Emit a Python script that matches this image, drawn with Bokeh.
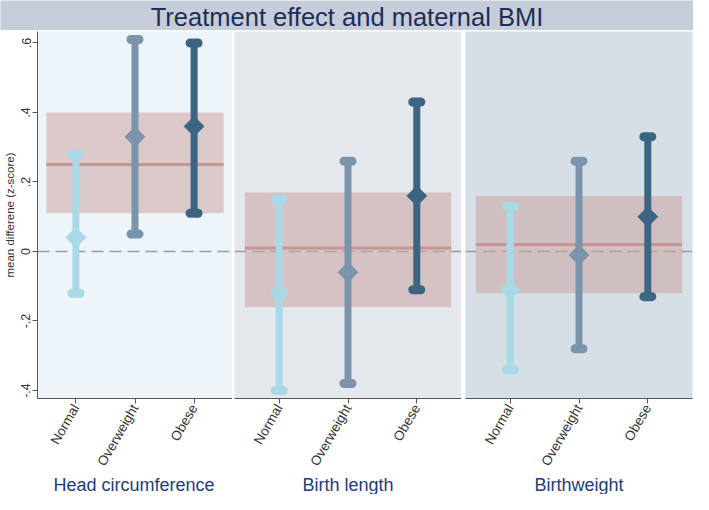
import math
from bokeh.plotting import figure
from bokeh.layouts import column, row
from bokeh.models import Range1d, FixedTicker, Span
from bokeh.core.properties import value
from bokeh.embed import file_html
from bokeh.resources import INLINE

title_text = "Treatment effect and maternal BMI"
y_label = "mean differene (z-score)"
groups = ["Normal", "Overweight", "Obese"]
outcomes = ["Head circumference", "Birth length", "Birthweight"]

# group-specific estimates (mean difference, z-score) with CI
head_est = [0.04, 0.33, 0.36]
head_lo = [-0.12, 0.05, 0.11]
head_hi = [0.28, 0.61, 0.60]

length_est = [-0.12, -0.06, 0.16]
length_lo = [-0.40, -0.38, -0.11]
length_hi = [0.15, 0.26, 0.43]

weight_est = [-0.11, -0.01, 0.10]
weight_lo = [-0.34, -0.28, -0.13]
weight_hi = [0.13, 0.26, 0.33]

# pooled estimate per outcome with CI (shaded band)
pooled_est = [0.25, 0.01, 0.02]
pooled_lo = [0.11, -0.16, -0.12]
pooled_hi = [0.40, 0.17, 0.16]

y_ticks = [-0.4, -0.2, 0, 0.2, 0.4, 0.6]
y_tick_labels = ["-.4", "-.2", "0", ".2", ".4", ".6"]

group_colors = ["#a9d8e6", "#7b93ab", "#3c6582"]
panel_bg = ["#eef5fa", "#e4e7ec", "#d7dfe6"]
FONT = "Liberation Sans"

series = [(head_est, head_lo, head_hi), (length_est, length_lo, length_hi),
          (weight_est, weight_lo, weight_hi)]

TITLE_H = 30
ROW_H = 445
LABEL_H = 19
XR = (0.35, 3.65)
widths = [232, 229, 232]
borders = [(35, 0), (2, 0), (4, 1)]
xs = [k + 1 for k in range(len(groups))]


def make_panel(i):
    est, lo, hi = series[i]
    bl, br = borders[i]
    p = figure(width=widths[i], height=ROW_H, x_range=Range1d(*XR),
               y_range=Range1d(-0.423, 0.633), output_backend="svg",
               toolbar_location=None, min_border_left=bl, min_border_right=br,
               min_border_top=1, min_border_bottom=60)
    p.background_fill_color = panel_bg[i]
    p.border_fill_color = "white"
    p.outline_line_color = None
    p.grid.visible = False

    p.add_layout(Span(location=0, dimension="width", line_color="#9b9b9b",
                      line_width=1.5, line_dash="12 6", level="underlay"))
    p.quad(left=[0.5], right=[3.5], bottom=[pooled_lo[i]], top=[pooled_hi[i]],
           fill_color="#c9a19d", fill_alpha=0.52, line_color=None)
    p.segment(x0=[0.5], x1=[3.5], y0=[pooled_est[i]], y1=[pooled_est[i]],
              line_color="#c39593", line_width=3)

    p.segment(x0=xs, x1=xs, y0=lo, y1=hi, line_color=group_colors, line_width=7)
    p.scatter(x=xs + xs, y=lo + hi, marker="dash", size=8, line_width=9,
              line_cap="round", line_color=group_colors + group_colors)
    p.scatter(x=xs, y=est, marker="square", angle=math.pi / 4, size=14,
              fill_color=group_colors, line_color=group_colors)

    ax = p.xaxis[0]
    ax.ticker = FixedTicker(ticks=xs)
    ax.major_label_overrides = {k + 1: g for k, g in enumerate(groups)}
    ax.major_label_orientation = math.pi / 3
    ax.major_label_text_font = FONT
    ax.major_label_text_font_size = "13.5px"
    ax.major_label_text_color = "#333333"
    ax.major_label_standoff = 2
    ax.axis_line_color = "#555555"
    ax.major_tick_line_color = "#555555"
    ax.major_tick_out = 5
    ax.major_tick_in = 0
    ax.minor_tick_line_color = None

    ya = p.yaxis[0]
    if i == 0:
        ya.ticker = FixedTicker(ticks=y_ticks)
        ya.major_label_overrides = dict(zip(y_ticks, y_tick_labels))
        ya.major_label_orientation = "vertical"
        ya.major_label_text_font = FONT
        ya.major_label_text_font_size = "12.5px"
        ya.major_label_text_color = "#333333"
        ya.major_label_standoff = 2
        ya.axis_label = y_label
        ya.axis_label_text_font = FONT
        ya.axis_label_text_font_size = "11.5px"
        ya.axis_label_text_font_style = "normal"
        ya.axis_label_text_color = "#333333"
        ya.axis_label_standoff = 3
        ya.axis_line_color = "#555555"
        ya.major_tick_line_color = "#555555"
        ya.major_tick_out = 5
        ya.major_tick_in = 0
        ya.minor_tick_line_color = None
    else:
        ya.visible = False
    return p


def make_label(i):
    bl, br = borders[i]
    f = figure(width=widths[i], height=LABEL_H, x_range=Range1d(*XR),
               y_range=Range1d(0, 1), x_axis_type=None, y_axis_type=None,
               output_backend="svg", toolbar_location=None,
               min_border_left=bl, min_border_right=br, min_border_top=0,
               min_border_bottom=0)
    f.background_fill_color = "white"
    f.border_fill_color = "white"
    f.outline_line_color = None
    f.grid.visible = False
    f.text(x=[(XR[0] + XR[1]) / 2], y=[0.5], text=[outcomes[i]],
           text_align="center", text_baseline="middle",
           text_font=value(FONT), text_font_size="18px", text_color="#1f3c78")
    return f


t = figure(width=693, height=TITLE_H, x_range=Range1d(0, 1), y_range=Range1d(0, 1),
           x_axis_type=None, y_axis_type=None, output_backend="svg",
           toolbar_location=None, min_border=0)
t.background_fill_color = "#c4cdd8"
t.border_fill_color = "#c4cdd8"
t.outline_line_color = None
t.grid.visible = False
t.text(x=[0.5], y=[0.45], text=[title_text], text_align="center",
       text_baseline="middle", text_font=value(FONT), text_font_size="25.5px",
       text_color="#1f2d58")

panels = [make_panel(i) for i in range(3)]
labels = [make_label(i) for i in range(3)]

layout = column(t, row(*panels, spacing=0), row(*labels, spacing=0), spacing=0)
open("out.html", "w").write(file_html(layout, INLINE))
